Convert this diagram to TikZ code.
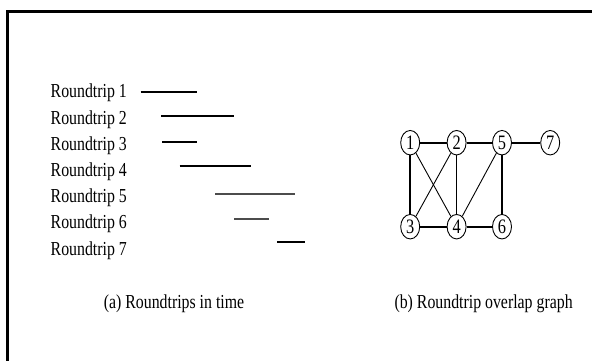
\documentclass[tikz,border=0pt]{standalone}
\usepackage{fontspec}
\setmainfont[FakeStretch=0.8]{Liberation Serif}
\usetikzlibrary{shapes.geometric}
\begin{document}
\begin{tikzpicture}[x=1pt,y=-1pt,
  lbl/.style={anchor=base west,inner sep=0pt,font=\fontsize{19.8}{23}\selectfont},
  captext/.style={anchor=base,inner sep=0pt,font=\fontsize{19.8}{23}\selectfont},
  bar/.style={line width=2pt,black},
  lightbar/.style={line width=1.2pt,black!70},
  vtx/.style={draw,ellipse,line width=0.9pt,minimum width=19pt,minimum height=24.5pt,inner sep=0pt,font=\fontsize{20.5}{23}\selectfont},
  thick edge/.style={line width=1.7pt},
  thin edge/.style={line width=0.9pt}]
\useasboundingbox (0,0) rectangle (592,360);
\fill[white] (0,0) rectangle (592,360);
% frame
\coordinate (fa) at (7.5,400);
\coordinate (fb) at (7.5,11.5);
\coordinate (fc) at (620,11.5);
\draw[line width=2.2pt,black] (fa) -- (fb) -- (fc);
% labels
\foreach \i/\y in {1/97.5,2/124,3/150,4/176,5/202,6/228.5,7/255}{
  \node[lbl] (r\i) at (50.5,\y) {Roundtrip \i};
}
% time bars
\coordinate (a1) at (140.5,92); \coordinate (b1) at (197,92);
\coordinate (a2) at (161,116);    \coordinate (b2) at (233.5,116);
\coordinate (a3) at (162,142);  \coordinate (b3) at (197,142);
\coordinate (a4) at (179.5,166);  \coordinate (b4) at (251,166);
\coordinate (a5) at (215,194);    \coordinate (b5) at (295,194);
\coordinate (a6) at (234,219);    \coordinate (b6) at (268.5,219);
\coordinate (a7) at (277,242);  \coordinate (b7) at (305,242);
\draw[bar] (a1) -- (b1);
\draw[bar] (a2) -- (b2);
\draw[bar] (a3) -- (b3);
\draw[bar] (a4) -- (b4);
\draw[lightbar] (a5) -- (b5);
\draw[lightbar] (a6) -- (b6);
\draw[bar] (a7) -- (b7);
% graph
\node[vtx] (n1) at (410.2,142.7) {1};
\node[vtx] (n2) at (456.6,142.7) {2};
\node[vtx] (n5) at (502,142.7) {5};
\node[vtx] (n7) at (550.2,142.7) {7};
\node[vtx] (n3) at (410.2,226.7) {3};
\node[vtx] (n4) at (456.6,226.7) {4};
\node[vtx] (n6) at (502,226.7) {6};
\draw[thick edge] (n1) -- (n2);
\draw[thick edge] (n2) -- (n5);
\draw[thick edge] (n5) -- (n7);
\draw[thick edge] (n1) -- (n3);
\draw[thick edge] (n2) -- (n4);
\draw[thick edge] (n5) -- (n6);
\draw[thick edge] (n3) -- (n4);
\draw[thick edge] (n4) -- (n6);
\draw[thin edge] (n1) -- (n4);
\draw[thin edge] (n2) -- (n3);
\draw[thin edge] (n5) -- (n4);
% captions
\node[captext] (ca) at (174,308) {(a) Roundtrips in time};
\node[captext] (cb) at (483.6,308) {(b) Roundtrip overlap graph};
\end{tikzpicture}
\end{document}
